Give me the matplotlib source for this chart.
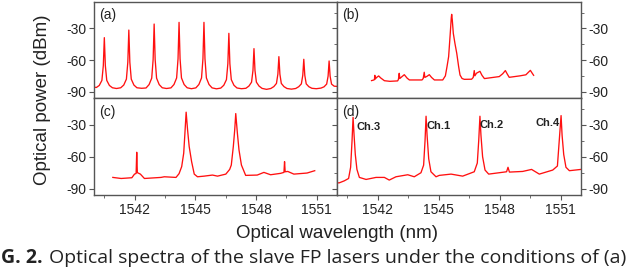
import matplotlib
matplotlib.use("Agg")
import matplotlib.pyplot as plt
from matplotlib.ticker import MultipleLocator

plt.rcParams['font.family'] = ['Liberation Sans', 'DejaVu Sans']
plt.rcParams['axes.unicode_minus'] = False

# (a) free running FP spectrum
wl_a = [1540.00, 1540.12, 1540.26, 1540.39, 1540.46, 1540.51, 1540.56, 1540.63, 1540.76, 1540.91, 1541.11,
        1541.32, 1541.47, 1541.60, 1541.67, 1541.72, 1541.77, 1541.84, 1541.97, 1542.12, 1542.35,
        1542.57, 1542.72, 1542.85, 1542.92, 1542.97, 1543.02, 1543.09, 1543.22, 1543.37, 1543.58,
        1543.80, 1543.95, 1544.08, 1544.15, 1544.20, 1544.25, 1544.32, 1544.45, 1544.60, 1544.81,
        1545.03, 1545.18, 1545.31, 1545.38, 1545.43, 1545.48, 1545.55, 1545.68, 1545.83, 1546.05,
        1546.26, 1546.41, 1546.54, 1546.61, 1546.66, 1546.71, 1546.78, 1546.91, 1547.06, 1547.28,
        1547.50, 1547.65, 1547.78, 1547.85, 1547.90, 1547.95, 1548.02, 1548.15, 1548.30, 1548.52,
        1548.73, 1548.88, 1549.01, 1549.08, 1549.13, 1549.18, 1549.25, 1549.38, 1549.53, 1549.75,
        1549.96, 1550.11, 1550.24, 1550.31, 1550.36, 1550.41, 1550.48, 1550.61, 1550.76, 1550.98,
        1551.21, 1551.36, 1551.49, 1551.56, 1551.61, 1551.66, 1551.73, 1551.86, 1552.00]
p_a = [-85.8, -86.0, -84.1, -79.3, -65.3, -38.8, -65.3, -79.3, -84.1, -86.3, -87.0,
       -86.3, -83.7, -78.1, -62.1, -31.6, -62.1, -78.1, -83.7, -86.3, -86.8,
       -86.5, -83.3, -77.2, -59.5, -25.9, -59.5, -77.2, -83.3, -86.3, -87.0,
       -86.4, -83.2, -77.0, -58.8, -24.3, -58.8, -77.0, -83.2, -86.3, -87.2,
       -86.4, -83.2, -77.0, -58.8, -24.3, -58.8, -77.0, -83.2, -86.4, -87.3,
       -86.6, -83.9, -78.6, -63.5, -34.7, -63.5, -78.6, -83.9, -86.5, -87.2,
       -86.8, -84.7, -81.0, -70.0, -49.2, -70.0, -81.0, -84.7, -86.9, -87.8,
       -87.0, -85.2, -82.2, -73.4, -56.8, -73.4, -82.2, -85.2, -87.0, -87.6,
       -87.0, -85.3, -82.6, -74.5, -59.3, -74.5, -82.6, -85.3, -86.8, -87.2,
       -86.6, -85.4, -82.8, -75.3, -60.9, -75.3, -82.8, -84.8, -85.0]

# (b)
wl_b = [1541.70, 1541.80, 1541.84, 1541.86, 1541.88, 1541.95, 1542.05, 1542.15, 1542.33, 1542.60,
        1542.98, 1543.02, 1543.06, 1543.09, 1543.18, 1543.31, 1543.45, 1543.56, 1544.18, 1544.24,
        1544.29, 1544.32, 1544.42, 1544.54, 1544.65, 1544.79, 1545.20, 1545.33, 1545.41, 1545.49,
        1545.57, 1545.62, 1545.64, 1545.67, 1545.72, 1545.80, 1545.89, 1545.98, 1546.05, 1546.15,
        1546.26, 1546.62, 1546.70, 1546.75, 1546.78, 1546.86, 1547.03, 1547.13, 1547.25, 1547.98,
        1548.15, 1548.28, 1548.38, 1548.47, 1549.00, 1549.29, 1549.42, 1549.51, 1549.60, 1549.67]
p_b = [-79.5, -79.0, -78.6, -74.5, -78.0, -76.5, -75.1, -77.0, -79.6, -80.2,
       -79.8, -78.5, -72.6, -77.5, -76.0, -73.9, -77.2, -78.9, -78.9, -77.5,
       -71.6, -76.5, -75.5, -73.9, -76.5, -78.9, -78.9, -75.0, -66.3, -56.8,
       -34.7, -20.0, -16.7, -22.0, -34.7, -44.2, -53.7, -66.0, -74.2, -77.5,
       -78.3, -78.2, -76.5, -70.0, -75.0, -72.5, -70.7, -74.5, -77.6, -75.7,
       -73.0, -70.0, -73.5, -76.4, -75.0, -74.0, -71.5, -69.8, -72.5, -74.5]

# (c)
wl_c = [1540.93, 1541.34, 1541.87, 1542.00, 1542.08, 1542.11, 1542.14, 1542.29, 1542.49, 1543.31,
        1543.47, 1544.05, 1544.20, 1544.33, 1544.43, 1544.49, 1544.55, 1544.62, 1544.70, 1544.82,
        1544.95, 1545.11, 1545.44, 1545.85, 1546.10, 1546.51, 1546.70, 1546.78, 1546.88, 1546.95,
        1547.00, 1547.08, 1547.16, 1547.28, 1547.49, 1548.06, 1548.39, 1548.72, 1549.21, 1549.38,
        1549.41, 1549.44, 1549.57, 1549.87, 1550.52, 1550.90]
p_c = [-79.5, -80.5, -79.8, -76.4, -75.8, -55.9, -75.0, -76.4, -80.5, -79.5,
       -78.9, -79.5, -76.0, -69.4, -56.8, -37.9, -18.3, -34.7, -50.5, -64.7,
       -76.4, -78.9, -78.3, -77.3, -78.3, -76.4, -72.0, -67.9, -50.5, -34.7,
       -19.6, -37.9, -53.7, -67.9, -77.6, -77.3, -74.8, -77.0, -75.7, -74.8,
       -64.7, -74.2, -73.9, -76.4, -75.4, -73.2]

# (d) injection locked, four channels
wl_d = [1540.00, 1540.11, 1540.36, 1540.57, 1540.67, 1540.74, 1540.79, 1540.84, 1540.90, 1540.98,
        1541.10, 1541.43, 1541.92, 1542.33, 1542.57, 1542.90, 1543.48, 1543.80, 1544.13, 1544.26,
        1544.33, 1544.38, 1544.43, 1544.51, 1544.62, 1544.87, 1545.03, 1545.61, 1546.18, 1546.75,
        1546.90, 1546.97, 1547.03, 1547.08, 1547.16, 1547.28, 1547.46, 1548.34, 1548.41, 1548.48,
        1549.13, 1549.57, 1549.95, 1550.61, 1550.84, 1550.93, 1551.02, 1551.07, 1551.15, 1551.26,
        1551.43, 1552.00]
p_d = [-84.6, -84.6, -82.7, -80.5, -70.0, -45.0, -23.1, -40.0, -58.0, -72.0,
       -79.5, -81.4, -79.5, -79.5, -82.0, -78.9, -77.0, -78.9, -75.1, -68.0,
       -45.0, -22.1, -40.0, -62.0, -74.2, -78.9, -77.6, -76.4, -78.3, -74.2,
       -66.0, -45.0, -22.1, -40.0, -60.0, -72.6, -76.4, -74.2, -70.0, -74.5,
       -73.9, -72.0, -76.4, -72.6, -68.8, -45.0, -21.5, -40.0, -58.0, -70.0,
       -73.2, -72.0]

ch_names = ['Ch.3', 'Ch.1', 'Ch.2', 'Ch.4']
ch_wl = [1540.97, 1544.41, 1547.03, 1549.74]
ch_p = [-32.2, -31.0, -30.0, -28.4]

panels = ['(a)', '(b)', '(c)', '(d)']
xticks = [1542, 1545, 1548, 1551]
yticks = [-30, -60, -90]

W, H = 640, 268
fig = plt.figure(figsize=(W / 100, H / 100), dpi=100)

def box(x0, y0, x1, y1):
    return [x0 / W, 1 - y1 / H, (x1 - x0) / W, (y1 - y0) / H]

ax_a = fig.add_axes(box(94, 2, 337, 98))
ax_b = fig.add_axes(box(337, 2, 581, 98))
ax_c = fig.add_axes(box(94, 98, 337, 195))
ax_d = fig.add_axes(box(337, 98, 581, 195))
axes = [ax_a, ax_b, ax_c, ax_d]
data = [(wl_a, p_a), (wl_b, p_b), (wl_c, p_c), (wl_d, p_d)]

for i, (ax, (x, y)) in enumerate(zip(axes, data)):
    ax.plot(x, y, color='#ff1010', lw=0.95)
    ax.set_xlim(1540, 1552)
    ax.set_ylim(-96, -5)
    for s in ax.spines.values():
        s.set_color('#555555')
        s.set_linewidth(1.0)
    ax.set_xticks(xticks)
    ax.xaxis.set_minor_locator(MultipleLocator(1.5))
    ax.set_yticks(yticks)
    ax.yaxis.set_minor_locator(MultipleLocator(15))
    ax.tick_params(which='both', direction='out', colors='#555555', labelcolor='#222222',
                   labelsize=10, pad=2)
    ax.tick_params(which='major', length=3.5)
    ax.tick_params(which='minor', length=2)
    if i < 2:
        ax.tick_params(axis='x', which='both', bottom=False, labelbottom=False)
    if i % 2 == 1:
        ax.tick_params(axis='y', which='both', left=True, labelleft=False,
                       right=True, labelright=True)
    else:
        ax.tick_params(axis='y', which='minor', left=False)
    ax.text(0.02, 0.86, panels[i], transform=ax.transAxes, fontsize=10,
            va='center', ha='left', color='#222222')

for name, xw, yp in zip(ch_names, ch_wl, ch_p):
    ax_d.text(xw, yp, name, fontsize=8, fontweight='bold', ha='left', va='center',
              color='#222222')

fig.text(43 / W, 1 - 100 / H, 'Optical power (dBm)', rotation=90, fontsize=13.5,
         ha='center', va='center', color='#222222')
fig.text(337 / W, 1 - 234 / H, 'Optical wavelength (nm)', fontsize=13.5,
         ha='center', va='center', color='#222222')

# caption line at the bottom of the image
fig.text(1 / W, 5 / H, 'G. 2.', fontsize=14, fontweight='bold', ha='left',
         va='baseline', color='#222222', family='Open Sans')
fig.text(49 / W, 5 / H, 'Optical spectra of the slave FP lasers under the conditions of (a)',
         fontsize=14, ha='left', va='baseline', color='#222222', family='Open Sans')

fig.savefig('out.png', dpi=100)
